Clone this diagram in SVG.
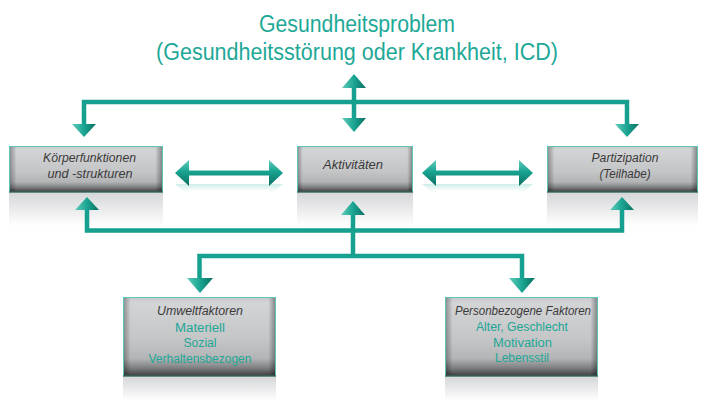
<svg xmlns="http://www.w3.org/2000/svg" width="702" height="401" viewBox="0 0 702 401">
<defs>
<linearGradient id="boxV" x1="0" y1="0" x2="0" y2="1">
<stop offset="0" stop-color="#c6c7c9"/><stop offset="0.08" stop-color="#d3d4d6"/><stop offset="0.55" stop-color="#c4c5c7"/><stop offset="0.78" stop-color="#b3b4b6"/><stop offset="0.9" stop-color="#7d7e80"/><stop offset="1" stop-color="#3c3d3f"/>
</linearGradient>
<linearGradient id="boxH" x1="0" y1="0" x2="1" y2="0">
<stop offset="0" stop-color="#000" stop-opacity="0.35"/><stop offset="0.05" stop-color="#000" stop-opacity="0"/><stop offset="0.95" stop-color="#000" stop-opacity="0"/><stop offset="1" stop-color="#000" stop-opacity="0.4"/>
</linearGradient>
<linearGradient id="refl" x1="0" y1="0" x2="0" y2="1">
<stop offset="0" stop-color="#d6d7d9"/><stop offset="1" stop-color="#ffffff"/>
</linearGradient>
<linearGradient id="reflEdge" x1="0" y1="0" x2="0" y2="1">
<stop offset="0" stop-color="#7fd3c6"/><stop offset="1" stop-color="#ffffff"/>
</linearGradient>
<linearGradient id="ah" x1="0" y1="0" x2="1" y2="0">
<stop offset="0" stop-color="#62ccbc"/><stop offset="0.5" stop-color="#1aa592"/><stop offset="1" stop-color="#0b6f62"/>
</linearGradient>
<linearGradient id="dbl" x1="0" y1="0" x2="0" y2="1">
<stop offset="0" stop-color="#62ccbc"/><stop offset="0.45" stop-color="#18a390"/><stop offset="1" stop-color="#0b6f62"/>
</linearGradient>
<linearGradient id="dblR" x1="0" y1="0" x2="0" y2="1">
<stop offset="0" stop-color="#bfe8e1" stop-opacity="0.8"/><stop offset="1" stop-color="#ffffff" stop-opacity="0"/>
</linearGradient>
</defs>
<style>
.box{fill:url(#boxV);}
.shade{fill:url(#boxH);}
.edge{fill:none;stroke:#5cc7b8;stroke-width:1;}
.bot{stroke:#203633;stroke-width:1.2;}
.refl{fill:url(#refl);}
.rede{stroke:url(#reflEdge);stroke-width:1;}
.lbl{font-family:"Liberation Sans",Arial,sans-serif;font-style:italic;font-size:12px;fill:#3a3a3a;text-anchor:middle;}
.tl{font-family:"Liberation Sans",Arial,sans-serif;font-size:12px;fill:#22a696;text-anchor:middle;}
.title{font-family:"Liberation Sans",Arial,sans-serif;font-size:23px;fill:#1ea897;text-anchor:middle;}
.ln{stroke:#15a08f;stroke-width:4.5;fill:none;}
.ah{fill:url(#ah);}
.dbl{fill:url(#dbl);}
.dblr{fill:url(#dblR);}
</style>

<g id="title">
<text class="title" x="357" y="32" textLength="196" lengthAdjust="spacingAndGlyphs">Gesundheitsproblem</text>
<text class="title" x="357" y="60" textLength="402" lengthAdjust="spacingAndGlyphs">(Gesundheitsstörung oder Krankheit, ICD)</text>
</g>

<g id="koerper">
<rect class="refl" x="9" y="193" width="154" height="33"/>
<line class="rede" x1="9.5" y1="193" x2="9.5" y2="226"/><line class="rede" x1="162.5" y1="193" x2="162.5" y2="226"/>
<rect class="box" x="9" y="146" width="154" height="46"/>
<rect class="shade" x="9" y="146" width="154" height="46"/>
<rect class="edge" x="9.5" y="146.5" width="153" height="45.5"/>
<line class="bot" x1="9" y1="192" x2="163" y2="192"/>
<text class="lbl" x="89.5" y="162" textLength="93" lengthAdjust="spacingAndGlyphs">Körperfunktionen</text>
<text class="lbl" x="90" y="178" textLength="85" lengthAdjust="spacingAndGlyphs">und -strukturen</text>
</g>

<g id="aktivitaeten">
<rect class="refl" x="297" y="193" width="116" height="33"/>
<line class="rede" x1="297.5" y1="193" x2="297.5" y2="226"/><line class="rede" x1="412.5" y1="193" x2="412.5" y2="226"/>
<rect class="box" x="297" y="146" width="116" height="46"/>
<rect class="shade" x="297" y="146" width="116" height="46"/>
<rect class="edge" x="297.5" y="146.5" width="115" height="45.5"/>
<line class="bot" x1="297" y1="192" x2="413" y2="192"/>
<text class="lbl" x="353" y="169" textLength="60" lengthAdjust="spacingAndGlyphs">Aktivitäten</text>
</g>

<g id="partizipation">
<rect class="refl" x="547" y="193" width="151" height="33"/>
<line class="rede" x1="547.5" y1="193" x2="547.5" y2="226"/><line class="rede" x1="697.5" y1="193" x2="697.5" y2="226"/>
<rect class="box" x="547" y="146" width="151" height="46"/>
<rect class="shade" x="547" y="146" width="151" height="46"/>
<rect class="edge" x="547.5" y="146.5" width="150" height="45.5"/>
<line class="bot" x1="547" y1="192" x2="698" y2="192"/>
<text class="lbl" x="625" y="162" textLength="67" lengthAdjust="spacingAndGlyphs">Partizipation</text>
<text class="lbl" x="625" y="178" textLength="51" lengthAdjust="spacingAndGlyphs">(Teilhabe)</text>
</g>

<g id="umwelt">
<rect class="refl" x="123" y="377" width="153" height="24"/>
<line class="rede" x1="123.5" y1="377" x2="123.5" y2="401"/><line class="rede" x1="275.5" y1="377" x2="275.5" y2="401"/>
<rect class="box" x="123" y="297" width="153" height="79"/>
<rect class="shade" x="123" y="297" width="153" height="79"/>
<rect class="edge" x="123.5" y="297.5" width="152" height="78.5"/>
<line class="bot" x1="123" y1="376" x2="276" y2="376"/>
<text class="lbl" x="200" y="315" textLength="86" lengthAdjust="spacingAndGlyphs">Umweltfaktoren</text>
<text class="tl" x="200" y="332" textLength="50" lengthAdjust="spacingAndGlyphs">Materiell</text>
<text class="tl" x="200" y="347" textLength="33" lengthAdjust="spacingAndGlyphs">Sozial</text>
<text class="tl" x="200" y="363" textLength="103" lengthAdjust="spacingAndGlyphs">Verhaltensbezogen</text>
</g>

<g id="person">
<rect class="refl" x="445" y="377" width="153" height="24"/>
<line class="rede" x1="445.5" y1="377" x2="445.5" y2="401"/><line class="rede" x1="597.5" y1="377" x2="597.5" y2="401"/>
<rect class="box" x="445" y="297" width="153" height="79"/>
<rect class="shade" x="445" y="297" width="153" height="79"/>
<rect class="edge" x="445.5" y="297.5" width="152" height="78.5"/>
<line class="bot" x1="445" y1="376" x2="598" y2="376"/>
<text class="lbl" x="523" y="315" textLength="136" lengthAdjust="spacingAndGlyphs">Personbezogene Faktoren</text>
<text class="tl" x="522" y="331" textLength="92" lengthAdjust="spacingAndGlyphs">Alter, Geschlecht</text>
<text class="tl" x="522.5" y="347" textLength="59" lengthAdjust="spacingAndGlyphs">Motivation</text>
<text class="tl" x="522" y="362" textLength="54" lengthAdjust="spacingAndGlyphs">Lebensstil</text>
</g>

<g id="connectors">
<!-- top distribution -->
<line class="ln" x1="354" y1="87" x2="354" y2="119"/>
<polyline class="ln" points="84,125 84,102 627,102 627,125"/>
<polygon class="ah" points="342,88 366,88 354,74"/>
<polygon class="ah" points="342,118 366,118 354,132"/>
<polygon class="ah" points="72,124 96,124 84,137"/>
<polygon class="ah" points="615,124 639,124 627,137"/>
<!-- double arrows -->
<polygon class="dblr" points="175,184 189,196 189,190 269,190 269,196 283,184 269,184 189,184"/>
<polygon class="dbl" points="175,173 189,160 189,170.5 269,170.5 269,160 283,173 269,186 269,175.5 189,175.5 189,186"/>
<polygon class="dblr" points="422,184 436,196 436,190 519,190 519,196 533,184 519,184 436,184"/>
<polygon class="dbl" points="422,173 436,160 436,170.5 519,170.5 519,160 533,173 519,186 519,175.5 436,175.5 436,186"/>
<!-- bottom collection -->
<polyline class="ln" points="87,209 87,230.5 622,230.5 622,209"/>
<line class="ln" x1="353" y1="214" x2="353" y2="256"/>
<polyline class="ln" points="199.5,279 199.5,256 522,256 522,279"/>
<polygon class="ah" points="75,210 99,210 87,197"/>
<polygon class="ah" points="341,215 365,215 353,201"/>
<polygon class="ah" points="610,210 634,210 622,197"/>
<polygon class="ah" points="187,278 213,278 200,293"/>
<polygon class="ah" points="509,278 535,278 522,293"/>
</g>
</svg>
